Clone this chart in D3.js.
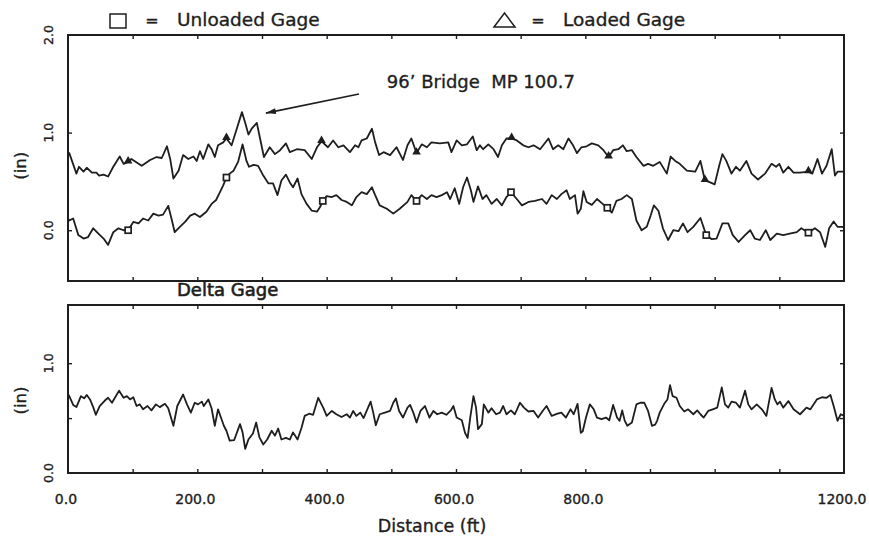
<!DOCTYPE html>
<html>
<head>
<meta charset="utf-8">
<script src="https://cdn.jsdelivr.net/npm/d3@7"></script>
<style>
	body { margin: 0; background: #fff; }
	svg { display: block; }
	svg text { stroke: #1e1e1e; stroke-width: 0.35px; }
</style>
</head>
<body>
<div class="chart"></div>
<script>
const width = 869,
	height = 542

// ---- data (distance ft, value in) ----
const loadedGage = [
	[0, 0.8], [2, 0.79], [13, 0.58], [17, 0.65], [24, 0.6], [29, 0.64], [37, 0.59], [44, 0.59], [48, 0.56],
	[55, 0.57], [62, 0.55], [70, 0.65], [80, 0.755], [86, 0.68], [93, 0.7], [98, 0.73], [114, 0.66], [127, 0.72],
	[137, 0.75], [145, 0.74], [153, 0.86], [158, 0.73], [163, 0.53], [171, 0.61], [178, 0.77], [186, 0.73],
	[194, 0.755], [199, 0.71], [204, 0.81], [209, 0.73], [217, 0.88], [222, 0.83], [227, 0.75], [232, 0.87],
	[240, 0.9], [245, 0.94], [253, 0.87], [261, 1.04], [269, 1.21], [274, 1.1], [279, 0.98], [284, 1.04],
	[292, 1.1], [297, 0.94], [303, 0.75], [312, 0.85], [320, 0.78], [328, 0.82], [337, 0.89], [343, 0.8],
	[354, 0.83], [366, 0.82], [377, 0.73], [385, 0.85], [392, 0.91], [402, 0.85], [410, 0.92], [418, 0.85],
	[426, 0.87], [436, 0.8], [444, 0.87], [449, 0.85], [454, 0.92], [462, 0.94], [470, 1.04], [475, 0.9],
	[481, 0.77], [488, 0.8], [498, 0.77], [508, 0.85], [518, 0.72], [525, 0.87], [531, 0.94], [539, 0.79],
	[547, 0.88], [555, 0.85], [562, 0.9], [575, 0.89], [588, 0.9], [593, 0.8], [601, 0.92], [609, 0.87],
	[617, 0.88], [626, 0.96], [632, 0.82], [637, 0.87], [642, 0.83], [650, 0.88], [658, 0.83], [665, 0.75],
	[671, 0.87], [678, 0.94], [686, 0.94], [694, 0.92], [704, 0.87], [712, 0.85], [720, 0.87], [730, 0.83],
	[743, 0.94], [750, 0.83], [758, 0.87], [766, 0.83], [774, 0.94], [781, 0.87], [787, 0.79], [794, 0.85],
	[802, 0.86], [810, 0.89], [820, 0.87], [828, 0.82], [836, 0.75], [843, 0.82], [851, 0.83], [858, 0.87],
	[864, 0.81], [872, 0.82], [879, 0.75], [890, 0.66], [897, 0.68], [905, 0.66], [915, 0.7], [926, 0.58],
	[932, 0.755], [939, 0.71], [946, 0.68], [957, 0.61], [970, 0.6], [978, 0.71], [985, 0.51], [993, 0.49],
	[1000, 0.47], [1007, 0.66], [1012, 0.78], [1018, 0.71], [1026, 0.58], [1033, 0.65], [1039, 0.61],
	[1049, 0.71], [1057, 0.58], [1067, 0.52], [1078, 0.58], [1088, 0.68], [1095, 0.65], [1100, 0.68],
	[1106, 0.59], [1114, 0.65], [1122, 0.59], [1132, 0.59], [1145, 0.6], [1151, 0.58], [1159, 0.73],
	[1166, 0.58], [1173, 0.66], [1181, 0.83], [1186, 0.56], [1190, 0.6], [1200, 0.6]
]

const unloadedGage = [
	[0, 0.12], [2, 0.1], [8, 0.12], [16, -0.05], [24, -0.085], [31, -0.07], [39, 0.02], [47, -0.035],
	[55, -0.085], [62, -0.15], [70, -0.02], [78, 0.02], [86, 0.0], [93, 0.0], [101, 0.085], [109, 0.07],
	[116, 0.12], [124, 0.1], [132, 0.17], [140, 0.15], [147, 0.16], [155, 0.25], [160, 0.12], [165, -0.02],
	[173, 0.035], [181, 0.085], [189, 0.15], [196, 0.17], [204, 0.135], [214, 0.19], [222, 0.27], [229, 0.31],
	[235, 0.39], [240, 0.46], [245, 0.54], [250, 0.58], [256, 0.61], [263, 0.7], [270, 0.88], [276, 0.71],
	[280, 0.65], [287, 0.67], [294, 0.66], [302, 0.56], [310, 0.48], [317, 0.48], [324, 0.36], [330, 0.51],
	[337, 0.57], [343, 0.49], [348, 0.44], [355, 0.53], [361, 0.37], [369, 0.27], [377, 0.2], [385, 0.19],
	[390, 0.24], [394, 0.3], [400, 0.35], [408, 0.34], [415, 0.36], [423, 0.31], [431, 0.29], [439, 0.255],
	[446, 0.34], [454, 0.39], [462, 0.37], [470, 0.44], [475, 0.36], [482, 0.255], [493, 0.22], [503, 0.17],
	[513, 0.22], [525, 0.29], [531, 0.36], [539, 0.3], [547, 0.36], [555, 0.32], [562, 0.36], [570, 0.34],
	[578, 0.36], [586, 0.39], [591, 0.32], [598, 0.43], [605, 0.27], [611, 0.44], [617, 0.54], [623, 0.41],
	[627, 0.29], [634, 0.45], [641, 0.32], [647, 0.36], [655, 0.27], [663, 0.32], [671, 0.255], [678, 0.34],
	[685, 0.39], [694, 0.32], [702, 0.255], [712, 0.29], [722, 0.3], [733, 0.32], [740, 0.27], [748, 0.36],
	[756, 0.32], [763, 0.37], [771, 0.41], [776, 0.32], [784, 0.36], [788, 0.17], [793, 0.22], [797, 0.4],
	[802, 0.29], [810, 0.26], [818, 0.32], [825, 0.28], [834, 0.23], [841, 0.18], [848, 0.3], [856, 0.32],
	[864, 0.36], [872, 0.32], [879, 0.1], [887, 0.0], [895, 0.035], [901, 0.15], [906, 0.255], [913, 0.2],
	[920, 0.02], [928, -0.1], [936, 0.0], [944, -0.01], [951, 0.07], [958, -0.02], [967, 0.035], [978, 0.125],
	[987, -0.05], [995, -0.09], [1003, -0.085], [1012, 0.07], [1021, 0.07], [1028, -0.05], [1037, -0.12],
	[1047, -0.05], [1055, 0.0], [1062, -0.085], [1070, -0.1], [1079, 0.0], [1086, -0.1], [1096, -0.035],
	[1106, -0.05], [1116, -0.035], [1127, -0.02], [1134, 0.02], [1145, -0.025], [1155, 0.02], [1163, -0.02],
	[1171, -0.17], [1177, 0.02], [1184, 0.09], [1190, 0.035], [1200, 0.035]
]

const deltaGage = [
	[0, 0.72], [2, 0.7], [8, 0.62], [13, 0.6], [20, 0.7], [25, 0.68], [29, 0.71], [34, 0.67], [39, 0.6],
	[43, 0.53], [49, 0.61], [57, 0.66], [62, 0.685], [68, 0.64], [73, 0.69], [79, 0.75], [86, 0.685], [91, 0.7],
	[96, 0.67], [101, 0.69], [106, 0.61], [111, 0.625], [116, 0.58], [123, 0.61], [129, 0.57], [136, 0.625],
	[142, 0.6], [150, 0.63], [155, 0.59], [163, 0.43], [169, 0.61], [178, 0.715], [184, 0.625], [190, 0.55],
	[196, 0.64], [201, 0.625], [207, 0.65], [210, 0.61], [217, 0.67], [222, 0.59], [227, 0.43], [232, 0.58],
	[238, 0.48], [241, 0.43], [245, 0.385], [250, 0.295], [257, 0.3], [266, 0.445], [270, 0.37], [274, 0.22],
	[279, 0.305], [286, 0.36], [291, 0.46], [296, 0.325], [302, 0.26], [308, 0.305], [315, 0.385], [320, 0.34],
	[325, 0.405], [330, 0.305], [337, 0.32], [343, 0.305], [348, 0.37], [355, 0.305], [361, 0.41], [366, 0.52],
	[373, 0.54], [379, 0.53], [387, 0.685], [395, 0.59], [400, 0.52], [408, 0.565], [415, 0.535], [423, 0.51],
	[431, 0.535], [436, 0.505], [441, 0.565], [446, 0.52], [452, 0.55], [457, 0.5], [464, 0.595], [468, 0.65],
	[472, 0.55], [476, 0.435], [482, 0.535], [490, 0.55], [498, 0.565], [503, 0.64], [507, 0.68], [512, 0.565],
	[518, 0.505], [525, 0.595], [529, 0.62], [534, 0.55], [539, 0.46], [545, 0.565], [552, 0.61], [559, 0.505],
	[565, 0.565], [571, 0.535], [578, 0.55], [585, 0.53], [592, 0.57], [596, 0.61], [601, 0.505], [609, 0.48],
	[614, 0.365], [618, 0.32], [622, 0.505], [627, 0.7], [631, 0.595], [634, 0.4], [640, 0.445], [643, 0.625],
	[650, 0.55], [655, 0.59], [662, 0.535], [668, 0.55], [673, 0.61], [678, 0.535], [685, 0.57], [691, 0.535],
	[699, 0.64], [705, 0.595], [712, 0.56], [720, 0.565], [727, 0.505], [734, 0.565], [740, 0.61], [748, 0.52],
	[757, 0.54], [763, 0.55], [770, 0.505], [777, 0.58], [782, 0.535], [788, 0.63], [793, 0.365], [796, 0.38],
	[801, 0.505], [807, 0.625], [813, 0.58], [818, 0.505], [825, 0.49], [832, 0.505], [837, 0.48], [843, 0.62],
	[849, 0.505], [853, 0.475], [857, 0.57], [861, 0.475], [865, 0.43], [872, 0.46], [879, 0.625], [885, 0.64],
	[891, 0.64], [897, 0.565], [903, 0.43], [908, 0.44], [911, 0.475], [915, 0.55], [922, 0.63], [927, 0.67],
	[931, 0.8], [935, 0.7], [941, 0.685], [946, 0.61], [953, 0.56], [959, 0.58], [967, 0.535], [973, 0.57],
	[978, 0.535], [983, 0.505], [990, 0.565], [997, 0.58], [1004, 0.595], [1011, 0.78], [1016, 0.625],
	[1021, 0.595], [1026, 0.65], [1033, 0.64], [1039, 0.595], [1047, 0.75], [1052, 0.625], [1057, 0.58],
	[1065, 0.625], [1073, 0.58], [1080, 0.52], [1088, 0.775], [1093, 0.67], [1097, 0.625], [1101, 0.65],
	[1106, 0.595], [1114, 0.655], [1122, 0.58], [1132, 0.535], [1142, 0.595], [1148, 0.58], [1158, 0.67],
	[1166, 0.69], [1173, 0.685], [1179, 0.71], [1184, 0.61], [1190, 0.475], [1195, 0.535], [1200, 0.52]
]

// marker symbols along the two gage traces
const unloadedMarkers = [[93, 0.0], [245, 0.54], [394, 0.3], [539, 0.3], [685, 0.39], [834, 0.23], [987, -0.05], [1145, -0.025]]
const loadedMarkers = [[93, 0.7], [245, 0.94], [392, 0.91], [539, 0.79], [686, 0.94], [836, 0.75], [985, 0.51], [1145, 0.6]]

// ticks and labels
const xTickMarks = d3.range(100, 1200, 100)
const xTickLabels = [0, 200, 400, 600, 800, 1200]
const topYTicks = [0, 1]
const topYLabels = [0, 1, 2]
const bottomYTicks = [0.5, 1]
const bottomYLabels = [0, 1]

// bridge annotation (text anchor + arrow in data units)
const bridgeNote = { text: '96’ Bridge  MP 100.7', at: [493, 1.455] }
const bridgeArrow = [[450, 1.395], [306, 1.2]]

const font = 'DejaVu Sans, Verdana, sans-serif'
const ink = '#1e1e1e'

const svg = d3
	.select('.chart')
	.append('svg')
	.attr('width', width)
	.attr('height', height)
	.style('font-family', font)

svg.append('rect').attr('width', width).attr('height', height).attr('fill', '#fff')

// scales
const x = d3.scaleLinear().domain([0, 1200]).range([68, 844])
const yTop = d3.scaleLinear().domain([-0.52, 2.0]).range([281, 35])
const yBot = d3.scaleLinear().domain([0, 1.53]).range([473, 305])

function drawPanel(y, yTicks) {
	const [y0, y1] = y.range()
	const g = svg.append('g')

	// inward ticks, every 100 ft along top and bottom edges
	g.append('g')
		.attr('transform', `translate(0,${y0})`)
		.call(d3.axisBottom(x).tickValues(xTickMarks).tickSize(-4).tickFormat(''))
		.call(a => a.select('.domain').remove())
	g.append('g')
		.attr('transform', `translate(0,${y1})`)
		.call(d3.axisTop(x).tickValues(xTickMarks).tickSize(-4).tickFormat(''))
		.call(a => a.select('.domain').remove())
	g.append('g')
		.attr('transform', `translate(${x.range()[0]},0)`)
		.call(d3.axisLeft(y).tickValues(yTicks).tickSize(-4).tickFormat(''))
		.call(a => a.select('.domain').remove())
	g.append('g')
		.attr('transform', `translate(${x.range()[1]},0)`)
		.call(d3.axisRight(y).tickValues(yTicks).tickSize(-4).tickFormat(''))
		.call(a => a.select('.domain').remove())
	g.selectAll('.tick line').attr('stroke', ink).attr('stroke-width', 1.4)

	g.append('rect')
		.attr('x', x.range()[0])
		.attr('y', y1)
		.attr('width', x.range()[1] - x.range()[0])
		.attr('height', y0 - y1)
		.attr('fill', 'none')
		.attr('stroke', ink)
		.attr('stroke-width', 2)
	return g
}

drawPanel(yTop, topYTicks)
drawPanel(yBot, bottomYTicks)

// traces
const lineTop = d3.line().x(d => x(d[0])).y(d => yTop(d[1]))
const lineBot = d3.line().x(d => x(d[0])).y(d => yBot(d[1]))

const traces = [
	[loadedGage, lineTop],
	[unloadedGage, lineTop],
	[deltaGage, lineBot],
]
traces.forEach(([data, line]) => {
	svg.append('path')
		.datum(data)
		.attr('fill', 'none')
		.attr('stroke', ink)
		.attr('stroke-width', 1.8)
		.attr('stroke-linejoin', 'round')
		.attr('d', line)
})

// markers
svg.append('g')
	.selectAll('rect')
	.data(unloadedMarkers)
	.join('rect')
	.attr('x', d => x(d[0]) - 3)
	.attr('y', d => yTop(d[1]) - 3)
	.attr('width', 6)
	.attr('height', 6)
	.attr('fill', '#fff')
	.attr('stroke', ink)
	.attr('stroke-width', 1.7)

const tri = d3.symbol().type(d3.symbolTriangle).size(32)
svg.append('g')
	.selectAll('path')
	.data(loadedMarkers)
	.join('path')
	.attr('transform', d => `translate(${x(d[0])},${yTop(d[1]) - 1})`)
	.attr('d', tri)
	.attr('fill', ink)

// legend
svg.append('rect')
	.attr('x', 110).attr('y', 14).attr('width', 16).attr('height', 14)
	.attr('fill', 'none').attr('stroke', ink).attr('stroke-width', 1.5)
svg.append('text').attr('x', 152).attr('y', 26).attr('text-anchor', 'middle')
	.style('font-size', '16px').attr('fill', ink).text('=')
svg.append('text').attr('x', 177).attr('y', 26)
	.style('font-size', '18.5px').attr('fill', ink).text('Unloaded Gage')

svg.append('path')
	.attr('d', 'M494,27 L504.5,13 L515,27 Z')
	.attr('fill', 'none').attr('stroke', ink).attr('stroke-width', 1.5)
svg.append('text').attr('x', 538).attr('y', 26).attr('text-anchor', 'middle')
	.style('font-size', '16px').attr('fill', ink).text('=')
svg.append('text').attr('x', 563).attr('y', 26)
	.style('font-size', '18.5px').attr('fill', ink).text('Loaded Gage')

// bridge annotation
svg.append('defs')
	.append('marker')
	.attr('id', 'arrow')
	.attr('viewBox', '0 0 10 6')
	.attr('refX', 10)
	.attr('refY', 3)
	.attr('markerWidth', 11)
	.attr('markerHeight', 6)
	.attr('markerUnits', 'userSpaceOnUse')
	.attr('orient', 'auto')
	.append('path')
	.attr('d', 'M0,0 L10,3 L0,6 Z')
	.attr('fill', ink)

svg.append('line')
	.attr('x1', x(bridgeArrow[0][0]))
	.attr('y1', yTop(bridgeArrow[0][1]))
	.attr('x2', x(bridgeArrow[1][0]))
	.attr('y2', yTop(bridgeArrow[1][1]))
	.attr('stroke', ink)
	.attr('stroke-width', 1.6)
	.attr('marker-end', 'url(#arrow)')

svg.append('text')
	.attr('x', x(bridgeNote.at[0]))
	.attr('y', yTop(bridgeNote.at[1]))
	.style('font-size', '18px')
	.style('white-space', 'pre')
	.attr('fill', ink)
	.text(bridgeNote.text)

// bottom panel title
svg.append('text')
	.attr('x', 177)
	.attr('y', 296)
	.style('font-size', '18px')
	.style('stroke-width', '0.6px')
	.attr('fill', ink)
	.text('Delta Gage')

// x tick labels
svg.append('g')
	.selectAll('text')
	.data(xTickLabels)
	.join('text')
	.attr('x', d => x(d) - 2)
	.attr('y', 504)
	.attr('text-anchor', 'middle')
	.style('font-size', '14px')
	.attr('fill', ink)
	.text(d => d3.format('.1f')(d))

svg.append('text')
	.attr('x', 432)
	.attr('y', 532)
	.attr('text-anchor', 'middle')
	.style('font-size', '17.5px')
	.attr('fill', ink)
	.text('Distance (ft)')

// rotated y tick labels
function yLabels(y, values) {
	svg.append('g')
		.selectAll('text')
		.data(values)
		.join('text')
		.attr('transform', d => `translate(53,${y(d)}) rotate(-90)`)
		.attr('text-anchor', 'middle')
		.style('font-size', '12.5px')
		.attr('fill', ink)
		.text(d => d3.format('.1f')(d))
}
yLabels(yTop, topYLabels)
yLabels(yBot, bottomYLabels)

// y axis titles
svg.append('text')
	.attr('transform', `translate(26,${yTop(0.66)}) rotate(-90)`)
	.attr('text-anchor', 'middle')
	.style('font-size', '16.5px')
	.attr('fill', ink)
	.text('(in)')

svg.append('text')
	.attr('transform', `translate(26,${yBot(0.66)}) rotate(-90)`)
	.attr('text-anchor', 'middle')
	.style('font-size', '16.5px')
	.attr('fill', ink)
	.text('(in)')
</script>
</body>
</html>
